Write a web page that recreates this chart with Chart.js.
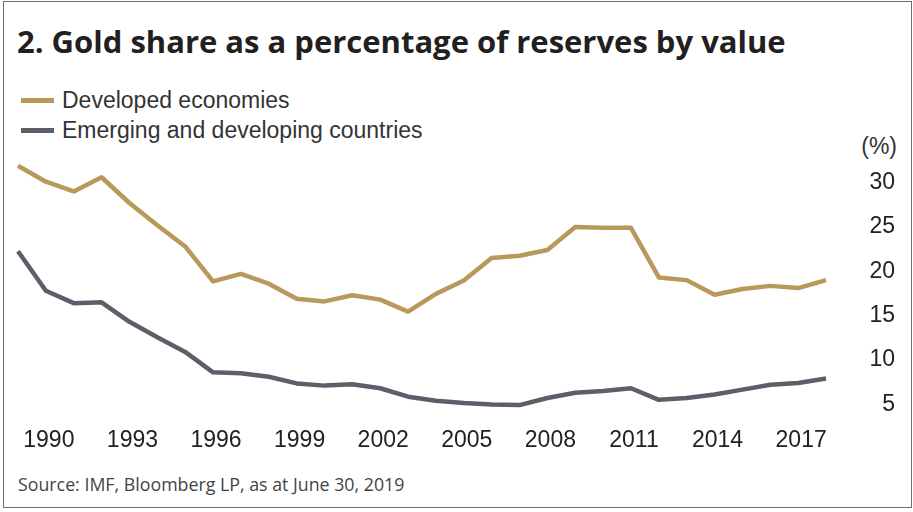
<!DOCTYPE html>
<html lang="en">
<head>
    <meta charset="UTF-8">
    <title>Gold share as a percentage of reserves by value</title>
    <style>
        body {
            margin: 0;
            width: 913px;
            height: 512px;
            position: relative;
            background: #ffffff;
            overflow: hidden;
        }
        .frame {
            position: absolute;
            left: 3px;
            top: 1px;
            width: 909px;
            height: 507px;
            box-sizing: border-box;
            border: 1.5px solid #6f6f6f;
        }
        .title {
            position: absolute;
            left: 17px;
            top: 25.5px;
            margin: 0;
            font-family: 'Open Sans', sans-serif;
            font-weight: bold;
            font-size: 31px;
            line-height: 31px;
            color: #231f20;
            white-space: nowrap;
        }
        .legend {
            position: absolute;
            left: 21px;
            top: 89px;
            font-family: 'Liberation Sans', Arial, sans-serif;
            font-size: 23px;
            line-height: 23px;
            color: #333333;
        }
        .legend-item {
            display: flex;
            align-items: center;
            height: 23px;
            margin-bottom: 6.5px;
            white-space: nowrap;
        }
        .legend-swatch {
            width: 33px;
            height: 5px;
            margin-right: 8px;
        }
        .unit {
            position: absolute;
            right: 16px;
            top: 135px;
            font-family: 'Liberation Sans', Arial, sans-serif;
            font-size: 23px;
            line-height: 23px;
            color: #333333;
        }
        .source {
            position: absolute;
            left: 18px;
            top: 473px;
            font-family: 'Open Sans', sans-serif;
            font-size: 17.8px;
            line-height: 22px;
            color: #444444;
            white-space: nowrap;
        }
        #chart {
            position: absolute;
            left: 0;
            top: 140px;
        }
    </style>
    <script src="https://cdn.jsdelivr.net/npm/chart.js"></script>
</head>
<body>
    <div class="frame"></div>
    <h1 class="title">2. Gold share as a percentage of reserves by value</h1>
    <div class="legend" id="legend"></div>
    <div class="unit">(%)</div>
    <canvas id="chart" width="913" height="320"></canvas>
    <div class="source">Source: IMF, Bloomberg LP, as at June 30, 2019</div>
    <script>
        // yearly observations, 1989 to 2018
        const years = [
            1989, 1990, 1991, 1992, 1993, 1994, 1995, 1996, 1997, 1998,
            1999, 2000, 2001, 2002, 2003, 2004, 2005, 2006, 2007, 2008,
            2009, 2010, 2011, 2012, 2013, 2014, 2015, 2016, 2017, 2018
        ];
        const developed = [
            31.9, 30.1, 29.0, 30.6, 27.7, 25.2, 22.8, 18.85, 19.7, 18.6,
            16.9, 16.6, 17.3, 16.8, 15.45, 17.45, 18.95, 21.5, 21.75, 22.4,
            25.0, 24.9, 24.9, 19.3, 19.0, 17.35, 18.0, 18.35, 18.1, 19.0
        ];
        const emerging = [
            22.25, 17.8, 16.4, 16.5, 14.3, 12.55, 10.9, 8.6, 8.5, 8.1,
            7.35, 7.1, 7.25, 6.8, 5.85, 5.4, 5.15, 4.97, 4.9, 5.7,
            6.3, 6.5, 6.8, 5.5, 5.7, 6.1, 6.65, 7.2, 7.4, 7.9
        ];
        const yTicks = [5, 10, 15, 20, 25, 30];
        const firstLabelYear = 1990;
        const labelEvery = 3;

        const GOLD = '#b8995a';
        const SLATE = '#5b6068';
        const TICK_FONT = { family: "'Liberation Sans', Arial, sans-serif", size: 23 };

        const chart = new Chart(document.getElementById('chart'), {
            type: 'line',
            data: {
                labels: years.map(String),
                datasets: [
                    {
                        label: 'Developed economies',
                        data: developed,
                        borderColor: GOLD,
                        backgroundColor: GOLD
                    },
                    {
                        label: 'Emerging and developing countries',
                        data: emerging,
                        borderColor: SLATE,
                        backgroundColor: SLATE
                    }
                ]
            },
            options: {
                responsive: false,
                animation: false,
                devicePixelRatio: 1,
                layout: {
                    padding: { left: 18, right: 18, top: 16, bottom: 6 }
                },
                elements: {
                    line: { borderWidth: 4.5, tension: 0, borderJoinStyle: 'round' },
                    point: { radius: 0, hoverRadius: 0 }
                },
                plugins: {
                    legend: { display: false },
                    tooltip: { enabled: false }
                },
                scales: {
                    x: {
                        type: 'category',
                        offset: false,
                        grid: { display: false, drawTicks: false },
                        border: { display: false },
                        afterFit: function (axis) {
                            axis.paddingLeft = 0;
                            axis.paddingRight = 0;
                        },
                        ticks: {
                            autoSkip: false,
                            maxRotation: 0,
                            padding: 0,
                            labelOffset: 3,
                            color: '#222222',
                            font: TICK_FONT,
                            callback: function (value) {
                                const year = years[value];
                                return (year - firstLabelYear) % labelEvery === 0 ? String(year) : '';
                            }
                        }
                    },
                    y: {
                        position: 'right',
                        min: 2.5,
                        max: 33,
                        grid: { display: false, drawTicks: false },
                        border: { display: false },
                        afterBuildTicks: function (axis) {
                            axis.ticks = yTicks.map(v => ({ value: v }));
                        },
                        // keep the tick gap out of the vertical padding and the axis width
                        afterFit: function (axis) {
                            axis.width = 69;
                            axis.paddingTop = 0;
                            axis.paddingBottom = 0;
                        },
                        ticks: {
                            crossAlign: 'far',
                            padding: 43,
                            color: '#222222',
                            font: TICK_FONT
                        }
                    }
                }
            }
        });

        // legend entries come from the chart's own datasets
        const legendBox = document.getElementById('legend');
        chart.data.datasets.forEach(ds => {
            const item = document.createElement('div');
            item.className = 'legend-item';
            const swatch = document.createElement('span');
            swatch.className = 'legend-swatch';
            swatch.style.background = ds.borderColor;
            const text = document.createElement('span');
            text.textContent = ds.label;
            item.appendChild(swatch);
            item.appendChild(text);
            legendBox.appendChild(item);
        });
    </script>
</body>
</html>
